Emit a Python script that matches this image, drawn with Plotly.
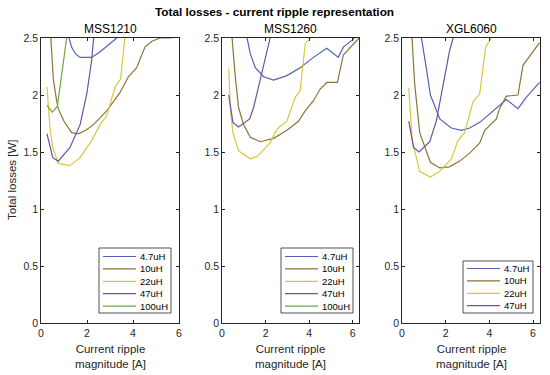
import plotly.graph_objects as go

W, H = 550, 375

# ---------------- data ----------------
panels = ["MSS1210", "MSS1260", "XGL6060"]
series_names = ["4.7uH", "10uH", "22uH", "47uH", "100uH"]

# MSS1210
mss1210_4u7_x = [1.0, 1.22, 1.33, 1.5, 1.7, 1.95, 2.2, 2.57, 3.0, 3.29, 3.45]
mss1210_4u7_y = [2.75, 2.5, 2.42, 2.36, 2.33, 2.33, 2.33, 2.38, 2.45, 2.5, 2.56]
mss1210_10u_x = [0.26, 0.43, 0.54, 0.68, 0.75, 1.0, 1.33, 1.62, 1.95, 2.28, 2.86, 3.43, 3.8, 4.16, 4.52, 4.81, 5.17, 5.6, 6.0]
mss1210_10u_y = [3.05, 2.5, 2.13, 1.95, 1.88, 1.77, 1.67, 1.66, 1.69, 1.74, 1.86, 2.02, 2.16, 2.24, 2.42, 2.47, 2.5, 2.5, 2.51]
mss1210_22u_x = [0.26, 0.39, 0.51, 0.75, 1.26, 1.7, 2.2, 2.57, 2.86, 3.22, 3.46, 3.65, 3.8]
mss1210_22u_y = [2.07, 1.71, 1.54, 1.40, 1.38, 1.45, 1.6, 1.74, 1.82, 2.07, 2.14, 2.5, 2.8]
mss1210_47u_x = [0.26, 0.51, 0.75, 1.26, 1.7, 1.99, 2.2, 2.3, 2.4]
mss1210_47u_y = [1.66, 1.45, 1.42, 1.54, 1.74, 2.01, 2.3, 2.5, 2.75]
mss1210_100u_x = [0.26, 0.49, 0.71, 0.91, 1.12, 1.25]
mss1210_100u_y = [1.91, 1.85, 1.90, 2.2, 2.5, 2.7]

# MSS1260
mss1260_4u7_x = [1.0, 1.15, 1.30, 1.53, 1.91, 2.37, 2.98, 3.59, 4.2, 4.81, 5.34, 5.57, 6.03, 6.3]
mss1260_4u7_y = [2.9, 2.5, 2.36, 2.24, 2.16, 2.13, 2.17, 2.24, 2.33, 2.41, 2.33, 2.42, 2.49, 2.55]
mss1260_10u_x = [0.31, 0.46, 0.61, 0.76, 0.99, 1.3, 1.76, 2.37, 2.98, 3.51, 3.82, 4.2, 4.5, 4.81, 5.3, 5.57, 6.29]
mss1260_10u_y = [2.85, 2.5, 2.16, 1.89, 1.74, 1.63, 1.59, 1.62, 1.69, 1.77, 1.86, 1.95, 2.05, 2.11, 2.11, 2.35, 2.5]
mss1260_22u_x = [0.31, 0.38, 0.5, 0.76, 1.3, 1.6, 2.21, 2.52, 2.98, 3.36, 3.59, 3.82, 4.08, 4.3]
mss1260_22u_y = [2.23, 1.89, 1.67, 1.51, 1.44, 1.46, 1.58, 1.7, 1.77, 1.98, 2.04, 2.45, 2.5, 2.6]
mss1260_47u_x = [0.31, 0.5, 0.76, 1.27, 1.45, 1.76, 1.98, 2.21, 2.35]
mss1260_47u_y = [2.0, 1.76, 1.72, 1.79, 1.89, 2.13, 2.3, 2.5, 2.65]

# XGL6060
xgl6060_4u7_x = [0.8, 0.89, 1.11, 1.3, 1.73, 2.26, 2.72, 3.1, 3.56, 4.09, 4.78, 5.31, 5.69, 6.3]
xgl6060_4u7_y = [2.8, 2.5, 2.24, 2.0, 1.79, 1.71, 1.69, 1.71, 1.76, 1.85, 1.96, 1.88, 1.98, 2.11]
xgl6060_10u_x = [0.31, 0.46, 0.58, 0.81, 1.04, 1.3, 1.73, 2.18, 2.64, 3.1, 3.56, 3.79, 4.32, 4.47, 4.78, 5.31, 5.54, 6.3]
xgl6060_10u_y = [3.0, 2.5, 2.1, 1.67, 1.54, 1.41, 1.36, 1.37, 1.42, 1.49, 1.58, 1.69, 1.79, 1.88, 1.99, 2.0, 2.26, 2.46]
xgl6060_22u_x = [0.31, 0.47, 0.81, 1.3, 1.73, 2.26, 2.56, 2.87, 3.25, 3.56, 3.83, 4.09, 4.3]
xgl6060_22u_y = [2.06, 1.6, 1.33, 1.28, 1.33, 1.44, 1.6, 1.67, 1.94, 2.01, 2.42, 2.5, 2.6]
xgl6060_47u_x = [0.31, 0.53, 0.78, 1.27, 1.57, 1.88, 2.18, 2.34, 2.45]
xgl6060_47u_y = [1.77, 1.54, 1.50, 1.59, 1.77, 2.1, 2.39, 2.5, 2.6]

x_ticks = [0, 2, 4, 6]
y_ticks = [0, 0.5, 1, 1.5, 2, 2.5]
y_tick_labels = ["0", "0.5", "1", "1.5", "2", "2.5"]
x_ranges = [[0, 6], [0, 6.29], [0, 6.32]]

# ---------------- styles ----------------
colors = {"4.7uH": "#5560b6", "10uH": "#8d7536", "22uH": "#d8c83c",
          "47uH": "#72509e", "100uH": "#72a444"}
FONT = "Liberation Sans, Arial, sans-serif"
TXT = "#262626"

panel_data = [
    [("4.7uH", mss1210_4u7_x, mss1210_4u7_y), ("10uH", mss1210_10u_x, mss1210_10u_y),
     ("22uH", mss1210_22u_x, mss1210_22u_y), ("47uH", mss1210_47u_x, mss1210_47u_y),
     ("100uH", mss1210_100u_x, mss1210_100u_y)],
    [("4.7uH", mss1260_4u7_x, mss1260_4u7_y), ("10uH", mss1260_10u_x, mss1260_10u_y),
     ("22uH", mss1260_22u_x, mss1260_22u_y), ("47uH", mss1260_47u_x, mss1260_47u_y)],
    [("4.7uH", xgl6060_4u7_x, xgl6060_4u7_y), ("10uH", xgl6060_10u_x, xgl6060_10u_y),
     ("22uH", xgl6060_22u_x, xgl6060_22u_y), ("47uH", xgl6060_47u_x, xgl6060_47u_y)],
]
legend_entries = [series_names, series_names, series_names[:4]]

# pixel layout of the three plot boxes
px_left = [41, 222, 402]
px_right = [179, 359, 540]
px_top, px_bottom = 38, 323


def fx(p):
    return p / W


def fy(p):
    return 1 - p / H


fig = go.Figure()
for i, series in enumerate(panel_data):
    ax = "" if i == 0 else str(i + 1)
    for name, xs, ys in series:
        fig.add_trace(go.Scatter(x=xs, y=ys, mode="lines", name=name,
                                 line=dict(color=colors[name], width=1.2),
                                 xaxis="x" + ax, yaxis="y" + ax, showlegend=False))

layout = dict(width=W, height=H, margin=dict(l=0, r=0, t=0, b=0, autoexpand=False),
              paper_bgcolor="white", plot_bgcolor="white", showlegend=False,
              font=dict(family=FONT, size=10, color=TXT))
for i in range(3):
    ax = "" if i == 0 else str(i + 1)
    layout["xaxis" + ax] = dict(domain=[fx(px_left[i]), fx(px_right[i])], range=x_ranges[i],
                                tickvals=x_ticks, ticks="inside", ticklen=3, tickcolor=TXT,
                                showline=True, linecolor=TXT, linewidth=0.8, mirror="ticks",
                                showgrid=False, zeroline=False, anchor="y" + ax,
                                automargin=False, tickfont=dict(size=10.5, color=TXT))
    layout["yaxis" + ax] = dict(domain=[fy(px_bottom), fy(px_top)], range=[0, 2.5],
                                tickvals=y_ticks, ticktext=y_tick_labels, ticks="inside",
                                ticklen=3, tickcolor=TXT, showline=True, linecolor=TXT,
                                linewidth=0.8, mirror="ticks", showgrid=False, zeroline=False,
                                anchor="x" + ax, automargin=False,
                                tickfont=dict(size=10.5, color=TXT))
fig.update_layout(**layout)

ann = []
shapes = []
ann.append(dict(text="<b>Total losses - current ripple representation</b>", x=fx(274), y=fy(12),
                xref="paper", yref="paper", xanchor="center", yanchor="middle",
                showarrow=False, font=dict(size=11.8, color="black")))
ann.append(dict(text="Total losses [W]", x=fx(12), y=fy(180), xref="paper", yref="paper",
                xanchor="center", yanchor="middle",
                showarrow=False, textangle=-90, font=dict(size=11.5, color=TXT)))
for i, name in enumerate(panels):
    cx = (px_left[i] + px_right[i]) / 2
    ann.append(dict(text=name, x=fx(cx), y=fy(29), xref="paper", yref="paper",
                    xanchor="center", yanchor="middle",
                    showarrow=False, font=dict(size=12, color="black")))
    ann.append(dict(text="Current ripple<br>magnitude [A]", x=fx(cx), y=fy(356),
                    xref="paper", yref="paper", xanchor="center", yanchor="middle",
                    showarrow=False, font=dict(size=11.5, color=TXT)))

# legends (box, sample line, label)
leg_boxes = [(99, 171, 248, 313), (281, 353, 248, 313), (463, 533, 261, 313)]
for i, entries in enumerate(legend_entries):
    x0, x1, y0, y1 = leg_boxes[i]
    shapes.append(dict(type="rect", xref="paper", yref="paper", x0=fx(x0), x1=fx(x1),
                       y0=fy(y1), y1=fy(y0), line=dict(color=TXT, width=0.8),
                       fillcolor="white", layer="above"))
    n = len(entries)
    step = 12.4
    first = y0 + 8.5 if n == 5 else y0 + 7.5
    for k, name in enumerate(entries):
        yy = first + k * step
        shapes.append(dict(type="line", xref="paper", yref="paper", x0=fx(x0 + 4), x1=fx(x0 + 37),
                           y0=fy(yy), y1=fy(yy), line=dict(color=colors[name], width=1.2),
                           layer="above"))
        ann.append(dict(text=name, x=fx(x0 + 39), y=fy(yy), xref="paper", yref="paper",
                        xanchor="left", yanchor="middle", showarrow=False,
                        font=dict(size=9.5, color="black")))

fig.update_layout(annotations=ann, shapes=shapes)
fig.write_html("out.html", config={"displayModeBar": False},
               post_script="document.body.style.margin='0px';")
